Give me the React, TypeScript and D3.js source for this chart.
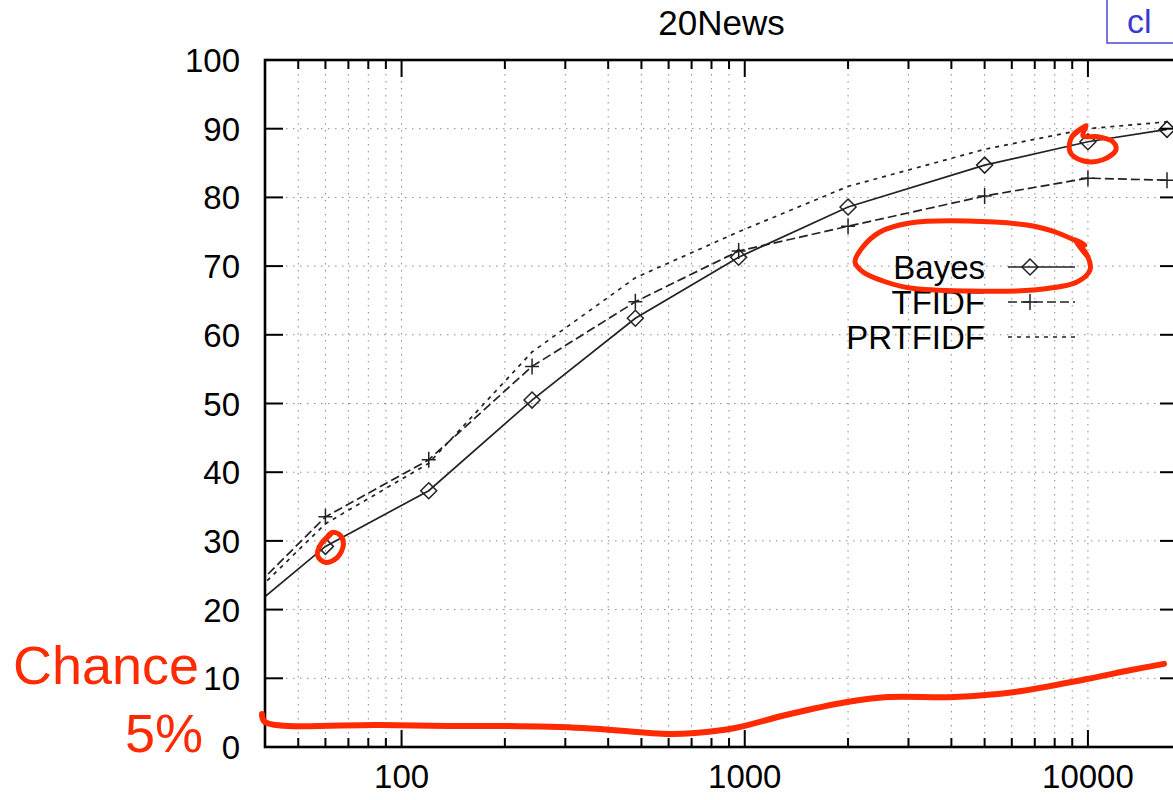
import React from "react";
import * as d3 from "d3";

// training set sizes (log x) and accuracy (%)
const sizes = [30, 60, 120, 240, 480, 960, 2000, 5000, 10000, 17000];
const bayes = [16.7, 29.2, 37.3, 50.5, 62.4, 71.3, 78.6, 84.7, 88.1, 89.9];
const tfidf = [18.5, 33.5, 41.8, 55.4, 64.8, 72.2, 75.8, 80.2, 82.8, 82.5];
const prtfidf = [17.8, 32.5, 41.3, 57.5, 68.3, 75.0, 81.6, 87.0, 90.0, 91.0];

const yTicks = [0, 10, 20, 30, 40, 50, 60, 70, 80, 90, 100];
const xMajor = [100, 1000, 10000];
const xMinor = [50, 60, 70, 80, 90, 200, 300, 400, 500, 600, 700, 800, 900,
  2000, 3000, 4000, 5000, 6000, 7000, 8000, 9000];

// hand-drawn "chance" line, in data units
const chanceX = [39.2, 40, 86.5, 139, 203, 338, 602, 716, 937, 1318, 1985, 2614, 4071, 6128, 9940, 13350, 16660];
const chanceY = [4.8, 3.64, 3.2, 3.06, 3.06, 2.77, 1.89, 2.04, 2.77, 4.66, 6.55, 7.28, 7.28, 8.01, 9.9, 11.2, 12.1];

// hand-drawn loops, pixel offsets around their anchor
const legendLoop: [number, number][] = [[90, -27], [103, -10], [105, 3], [92, 15], [48, 23], [-18, 24], [-75, 21],
  [-102, 14], [-122, 5], [-130, -5], [-123, -19], [-105, -35], [-75, -44], [-18, -46], [48, -41], [73, -34], [100, -22]];
const bigLoop: [number, number][] = [[-2, -16], [-16, -5], [-18, 10], [-5, 19], [15, 18], [28, 8], [25, 0], [10, -5], [-5, -6]];
const smallLoop: [number, number][] = [[6, -13], [-4, -3], [-8, 9], [0, 16], [12, 11], [18, -2], [15, -11], [7, -14], [2, -10]];

const W = 1173, H = 800;
const left = 265, right = 1178, top = 60, bottom = 747;
const font = "'Liberation Sans', Arial, Helvetica, sans-serif";
const ink = "#222";
const red = "#ff2a00";

const App = () => {
  const x = d3.scaleLog().domain([40, 18300]).range([left, right]);
  const y = d3.scaleLinear().domain([0, 100]).range([bottom, top]);

  const line = d3.line<number>()
    .x((_, i) => x(sizes[i]))
    .y(d => y(d));

  const series = [
    { name: "Bayes", values: bayes, dash: null, marker: "diamond" },
    { name: "TFIDF", values: tfidf, dash: "9,4", marker: "plus" },
    { name: "PRTFIDF", values: prtfidf, dash: "4,5", marker: null },
  ];

  const marker = (kind: string | null, cx: number, cy: number, key: string) => {
    if (kind === "diamond") {
      return <path key={key} d={`M${cx},${cy - 8}L${cx + 8},${cy}L${cx},${cy + 8}L${cx - 8},${cy}Z`}
        fill="none" stroke={ink} strokeWidth={1.5} />;
    }
    if (kind === "plus") {
      return <path key={key} d={`M${cx - 7},${cy}H${cx + 7}M${cx},${cy - 8}V${cy + 8}`}
        stroke={ink} strokeWidth={1.5} />;
    }
    return null;
  };

  const hand = d3.line<[number, number]>().curve(d3.curveCatmullRom.alpha(0.5));
  const loopAt = (pts: [number, number][], ax: number, ay: number) =>
    hand(pts.concat([pts[0], pts[1]]).map(([dx, dy]) => [ax + dx, ay + dy] as [number, number]));

  const chancePath = hand(chanceX.map((v, i) => [x(v), y(chanceY[i])] as [number, number]));

  const legendX = 985, legendY0 = 267, legendStep = 35;

  return (
    <svg width={W} height={H} style={{ position: "absolute", left: 0, top: 0, background: "#fff" }}>
      <defs>
        <clipPath id="plot">
          <rect x={left} y={top} width={right - left} height={bottom - top} />
        </clipPath>
      </defs>

      {/* grid */}
      <g stroke="#8a8a8a" strokeWidth={1} strokeDasharray="1.5,5.5">
        {yTicks.filter(t => t > 0 && t < 100).map(t => (
          <line key={"gy" + t} x1={left} x2={right} y1={y(t)} y2={y(t)} />
        ))}
        {xMajor.concat(xMinor).map(t => (
          <line key={"gx" + t} x1={x(t)} x2={x(t)} y1={top} y2={bottom} />
        ))}
      </g>

      {/* series */}
      <g clipPath="url(#plot)">
        {series.map(s => (
          <path key={s.name} d={line(s.values) || ""} fill="none" stroke={ink}
            strokeWidth={1.7} strokeDasharray={s.dash || undefined} />
        ))}
        {series.map(s => s.values.map((v, i) => marker(s.marker, x(sizes[i]), y(v), s.name + i)))}
      </g>

      {/* frame and ticks */}
      <g stroke="#000" strokeWidth={2}>
        {yTicks.map(t => (
          <g key={"ty" + t}>
            <line x1={left} x2={left + 18} y1={y(t)} y2={y(t)} />
            <line x1={right - 18} x2={right} y1={y(t)} y2={y(t)} />
          </g>
        ))}
        {xMajor.map(t => (
          <g key={"tx" + t}>
            <line x1={x(t)} x2={x(t)} y1={bottom} y2={bottom - 17} />
            <line x1={x(t)} x2={x(t)} y1={top} y2={top + 17} />
          </g>
        ))}
        {xMinor.map(t => (
          <g key={"tm" + t}>
            <line x1={x(t)} x2={x(t)} y1={bottom} y2={bottom - 9} />
            <line x1={x(t)} x2={x(t)} y1={top} y2={top + 9} />
          </g>
        ))}
        <rect x={left} y={top} width={right - left} height={bottom - top} fill="none" strokeWidth={2.6} />
      </g>

      {/* tick labels */}
      <g fontFamily={font} fontSize={33} fill="#000">
        {yTicks.map(t => (
          <text key={"ly" + t} x={240} y={y(t) + 12} textAnchor="end">{t}</text>
        ))}
        {xMajor.map(t => (
          <text key={"lx" + t} x={x(t)} y={788} textAnchor="middle">{t}</text>
        ))}
      </g>

      <text x={(left + right) / 2} y={35} textAnchor="middle" fontFamily={font} fontSize={35}>20News</text>

      {/* legend */}
      <g fontFamily={font} fontSize={33}>
        {series.map((s, i) => {
          const ly = legendY0 + i * legendStep;
          return (
            <g key={"lg" + s.name}>
              <text x={legendX} y={ly + 12} textAnchor="end">{s.name}</text>
              <line x1={1008} x2={1075} y1={ly} y2={ly} stroke={ink} strokeWidth={1.7}
                strokeDasharray={s.dash || undefined} />
              {marker(s.marker, 1030, ly, "lm" + i)}
            </g>
          );
        })}
      </g>

      {/* hand annotations */}
      <g fill="none" stroke={red} strokeLinecap="round" strokeLinejoin="round">
        <path d={chancePath || ""} strokeWidth={6} />
        <path d={loopAt(legendLoop, legendX, legendY0) || ""} strokeWidth={5} />
        <path d={loopAt(bigLoop, x(sizes[8]), y(bayes[8])) || ""} strokeWidth={5} />
        <path d={loopAt(smallLoop, x(sizes[1]), y(bayes[1])) || ""} strokeWidth={5} />
      </g>
      <g fontFamily={font} fill={red}>
        <text x={13} y={684} fontSize={54} textLength={186} lengthAdjust="spacingAndGlyphs">Chance</text>
        <text x={125} y={752} fontSize={54}>5%</text>
      </g>

      <rect x={1107} y={-5} width={100} height={48} fill="none" stroke="#4a4ad8" strokeWidth={1.5} />
      <text x={1127} y={33} fontFamily={font} fontSize={34} fill="#3a3ad0">cl</text>
    </svg>
  );
};

export default App;
